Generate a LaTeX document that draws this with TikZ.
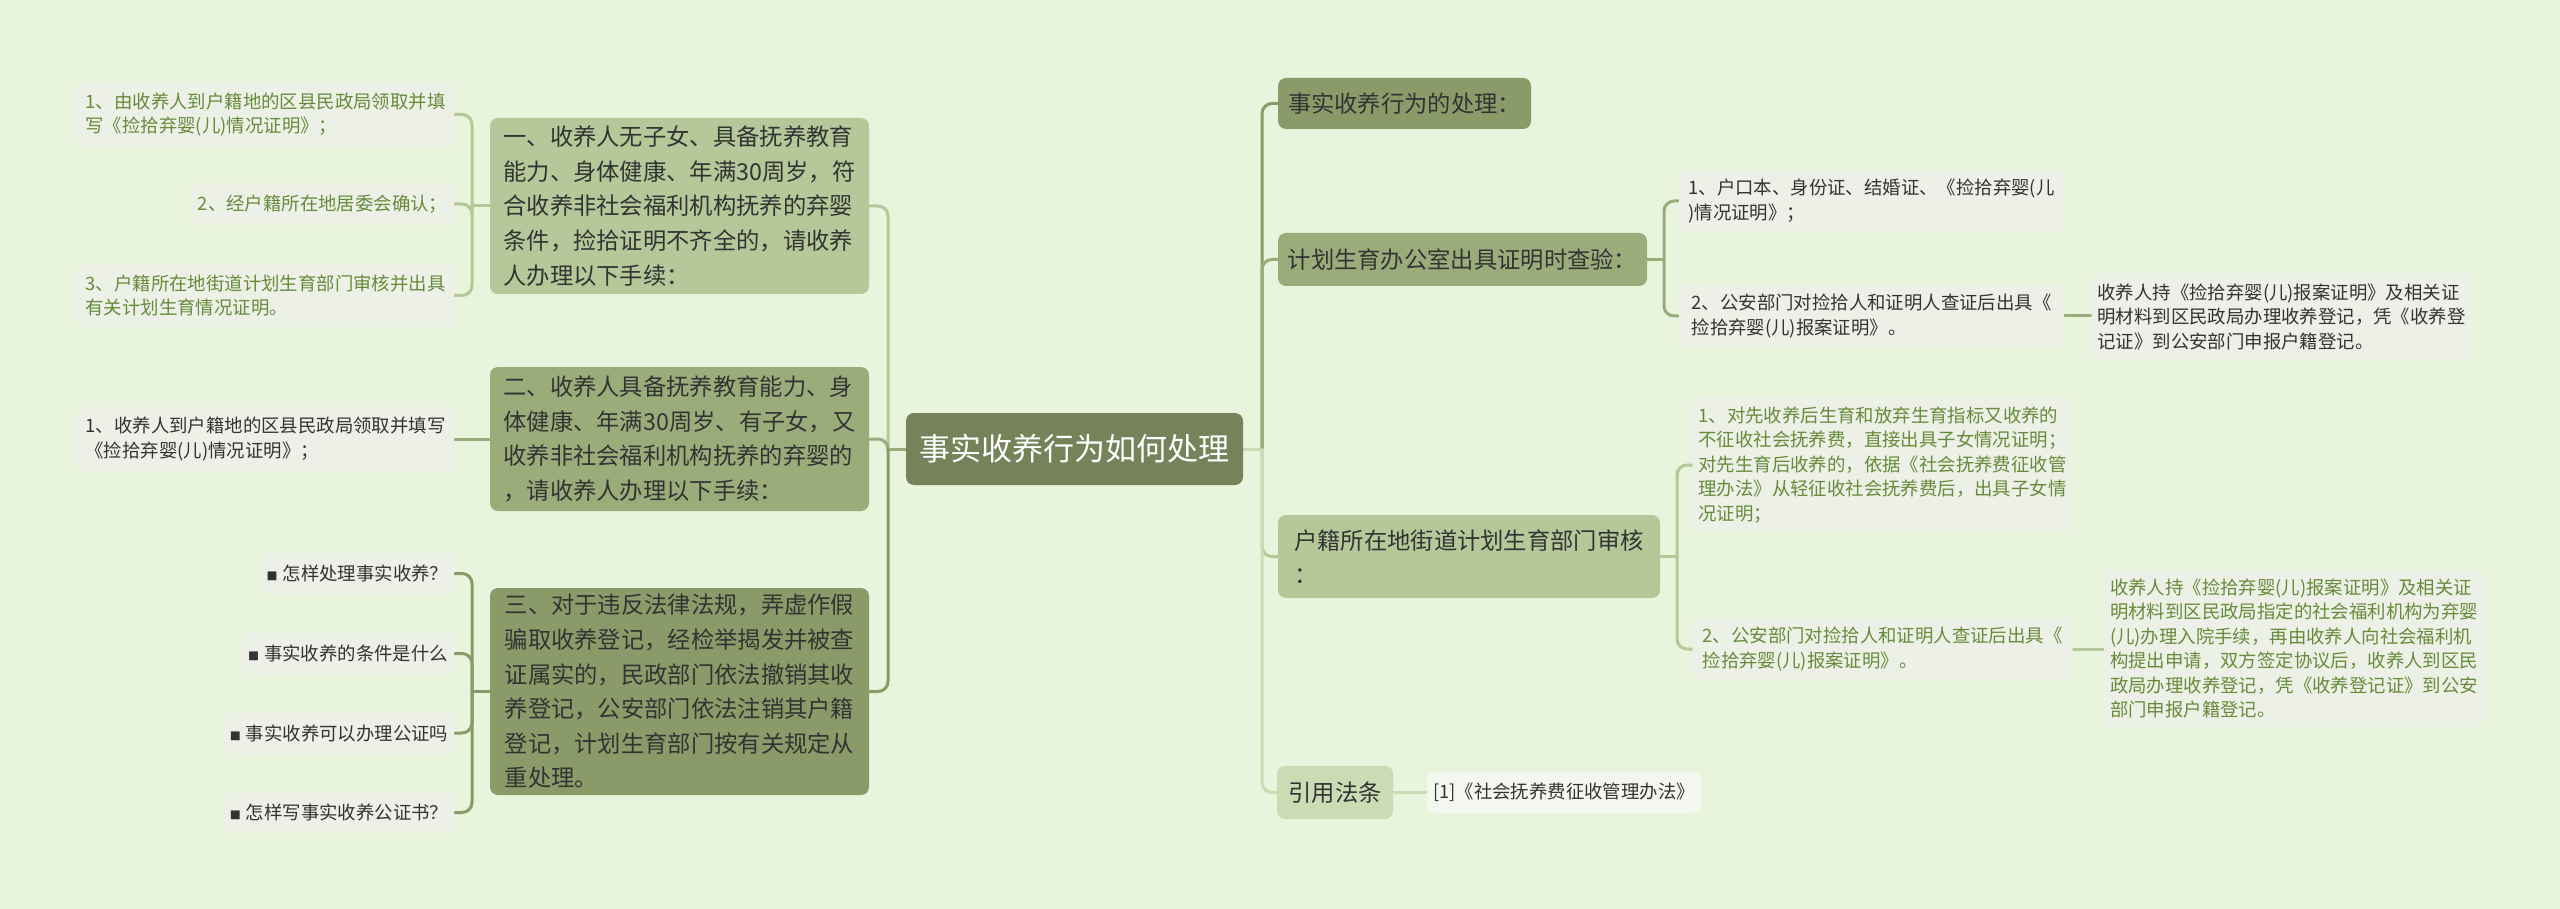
\documentclass[tikz,border=0pt]{standalone}
\usepackage{fontspec}
\setmainfont{Noto Sans CJK SC}
\usetikzlibrary{calc}
\pgfdeclarelayer{back}
\pgfdeclarelayer{lines}
\pgfsetlayers{back,lines,main}
\definecolor{bgc}{HTML}{E8F4DB}
\definecolor{cCenter}{HTML}{76835A}
\definecolor{cDark}{HTML}{8A9A68}
\definecolor{cMed}{HTML}{9BAC7B}
\definecolor{cLight}{HTML}{B4C899}
\definecolor{cLightest}{HTML}{C9DCB3}
\definecolor{leaffill}{HTML}{EDF0E6}
\definecolor{leaffill2}{HTML}{F4F7EF}
\definecolor{txt}{HTML}{333333}
\definecolor{gtxt}{HTML}{668B3A}
\tikzset{
  box/.style={rounded corners=8pt, inner sep=0pt, align=left, text=txt},
  mainnode/.style={box, font=\fontsize{23.3}{34.6}\selectfont},
  leaf/.style={box, fill=leaffill, font=\fontsize{18.4}{24.5}\selectfont},
  gleaf/.style={leaf, text=gtxt},
  conn/.style={line width=3pt, rounded corners=10pt, line cap=round}
}
\newcommand{\bsq}{{\fontsize{11}{11}\selectfont ■}\hspace{5pt}}
\begin{document}
\begin{tikzpicture}[x=1pt,y=-1pt]
\begin{pgfonlayer}{back}
\fill[bgc] (0,0) rectangle (2560,909);
\end{pgfonlayer}
\useasboundingbox (0,0) rectangle (2560,909);

% center
\node[box, fill=cCenter, text=white, font=\fontsize{31}{36}\selectfont, minimum width=337pt, minimum height=72pt] (C) at (1074.5,449) {事实收养行为如何处理};

% left main nodes
\node[mainnode, fill=cLight, minimum width=379pt, minimum height=176pt] (L1) at (679.5,206) {一、收养人无子女、具备抚养教育\\能力、身体健康、年满30周岁，符\\合收养非社会福利机构抚养的弃婴\\条件，捡拾证明不齐全的，请收养\\人办理以下手续：};
\node[mainnode, fill=cMed, minimum width=379pt, minimum height=144pt] (L2) at (679.5,439) {二、收养人具备抚养教育能力、身\\体健康、年满30周岁、有子女，又\\收养非社会福利机构抚养的弃婴的\\，请收养人办理以下手续：};
\node[mainnode, fill=cDark, minimum width=379pt, minimum height=207pt] (L3) at (679.5,691.5) {三、对于违反法律法规，弄虚作假\\骗取收养登记，经检举揭发并被查\\证属实的，民政部门依法撤销其收\\养登记，公安部门依法注销其户籍\\登记，计划生育部门按有关规定从\\重处理。};

% left leaves
\node[gleaf, minimum width=377pt, minimum height=65pt] (LL1a) at (265.5,114.5) {1、由收养人到户籍地的区县民政局领取并填\\写《捡拾弃婴(儿)情况证明》；};
\node[gleaf, minimum width=263pt, minimum height=42pt] (LL1b) at (322.5,204) {2、经户籍所在地居委会确认；};
\node[gleaf, minimum width=377pt, minimum height=63pt] (LL1c) at (265.5,295.5) {3、户籍所在地街道计划生育部门审核并出具\\有关计划生育情况证明。};
\node[leaf, minimum width=377pt, minimum height=65pt] (LL2a) at (265.5,439) {1、收养人到户籍地的区县民政局领取并填写\\《捡拾弃婴(儿)情况证明》；};
\node[leaf, minimum width=193pt, minimum height=41pt] (B1) at (357.5,573.5) {\bsq 怎样处理事实收养？};
\node[leaf, minimum width=212pt, minimum height=41pt] (B2) at (348,653.5) {\bsq 事实收养的条件是什么};
\node[leaf, minimum width=230pt, minimum height=41pt] (B3) at (339,733) {\bsq 事实收养可以办理公证吗};
\node[leaf, minimum width=230pt, minimum height=41pt] (B4) at (339,812.5) {\bsq 怎样写事实收养公证书？};

% right main nodes
\node[mainnode, fill=cDark, minimum width=253pt, minimum height=51pt] (R1) at (1404.5,103.5) {事实收养行为的处理：};
\node[mainnode, fill=cMed, minimum width=369pt, minimum height=53pt] (R2) at (1462.5,259.5) {计划生育办公室出具证明时查验：};
\node[mainnode, fill=cLight, minimum width=382pt, minimum height=83pt] (R3) at (1469,556.5) {户籍所在地街道计划生育部门审核\\：};
\node[mainnode, fill=cLightest, minimum width=116pt, minimum height=53pt] (R4) at (1335,792.5) {引用法条};

% right leaves
\node[leaf, minimum width=385pt, minimum height=62pt] (R2a) at (1871.5,201) {1、户口本、身份证、结婚证、《捡拾弃婴(儿\\)情况证明》；};
\node[leaf, minimum width=385pt, minimum height=62pt] (R2b) at (1871.5,316) {2、公安部门对捡拾人和证明人查证后出具《\\捡拾弃婴(儿)报案证明》。};
\node[leaf, minimum width=380pt, minimum height=87pt] (R2b1) at (2281.5,316.5) {收养人持《捡拾弃婴(儿)报案证明》及相关证\\明材料到区民政局办理收养登记，凭《收养登\\记证》到公安部门申报户籍登记。};
\node[gleaf, minimum width=380pt, minimum height=134pt] (R3a) at (1882.5,465) {1、对先收养后生育和放弃生育指标又收养的\\不征收社会抚养费，直接出具子女情况证明；\\对先生育后收养的，依据《社会抚养费征收管\\理办法》从轻征收社会抚养费后，出具子女情\\况证明；};
\node[gleaf, minimum width=380pt, minimum height=62pt] (R3b) at (1882.5,649) {2、公安部门对捡拾人和证明人查证后出具《\\捡拾弃婴(儿)报案证明》。};
\node[gleaf, minimum width=380pt, minimum height=157pt] (R3b1) at (2294,648.5) {收养人持《捡拾弃婴(儿)报案证明》及相关证\\明材料到区民政局指定的社会福利机构为弃婴\\(儿)办理入院手续，再由收养人向社会福利机\\构提出申请，双方签定协议后，收养人到区民\\政局办理收养登记，凭《收养登记证》到公安\\部门申报户籍登记。};
\node[leaf, fill=leaffill2, minimum width=274pt, minimum height=41pt] (R4a) at (1564,792.5) {[1]《社会抚养费征收管理办法》};

% bus coordinates
\coordinate (busL) at (888,0);
\coordinate (busR) at (1262,0);
\coordinate (bL1) at (472,0);
\coordinate (bL3) at (472,0);
\coordinate (bR2) at (1664,0);
\coordinate (bR3) at (1677,0);

\begin{pgfonlayer}{lines}
% center to left
\draw[conn, cMed] (C.west) -- (C.west -| busL);
\draw[conn, cLight] (C.west -| busL) |- (L1.east);
\draw[conn, cMed] (C.west -| busL) |- (L2.east);
\draw[conn, cDark] (C.west -| busL) |- (L3.east);
% center to right
\draw[conn, cLightest] (C.east) -- (C.east -| busR);
\draw[conn, cDark] (C.east -| busR) |- (R1.west);
\draw[conn, cMed] (C.east -| busR) |- (R2.west);
\draw[conn, cLight] (C.east -| busR) |- (R3.west);
\draw[conn, cLightest] (C.east -| busR) |- (R4.west);
% L1 leaves
\draw[conn, cLight] (L1.west) -- (L1.west -| bL1);
\draw[conn, cLight] (L1.west -| bL1) |- (LL1a.east);
\draw[conn, cLight] (L1.west -| bL1) |- (LL1b.east);
\draw[conn, cLight] (L1.west -| bL1) |- (LL1c.east);
% L2 leaf
\draw[conn, cMed] (L2.west) -- (LL2a.east);
% L3 leaves
\draw[conn, cDark] (L3.west) -- (L3.west -| bL3);
\draw[conn, cDark] (L3.west -| bL3) |- (B1.east);
\draw[conn, cDark] (L3.west -| bL3) |- (B2.east);
\draw[conn, cDark] (L3.west -| bL3) |- (B3.east);
\draw[conn, cDark] (L3.west -| bL3) |- (B4.east);
% R2 leaves
\draw[conn, cMed] (R2.east) -- (R2.east -| bR2);
\draw[conn, cMed] (R2.east -| bR2) |- (R2a.west);
\draw[conn, cMed] (R2.east -| bR2) |- (R2b.west);
\draw[conn, cMed] (R2b.east) -- (R2b1.west |- R2b.east);
% R3 leaves
\draw[conn, cLight] (R3.east) -- (R3.east -| bR3);
\draw[conn, cLight] (R3.east -| bR3) |- (R3a.west);
\draw[conn, cLight] (R3.east -| bR3) |- (R3b.west);
\draw[conn, cLight] (R3b.east) -- (R3b1.west |- R3b.east);
% R4 leaf
\draw[conn, cLightest] (R4.east) -- (R4a.west);
\end{pgfonlayer}
\end{tikzpicture}
\end{document}
